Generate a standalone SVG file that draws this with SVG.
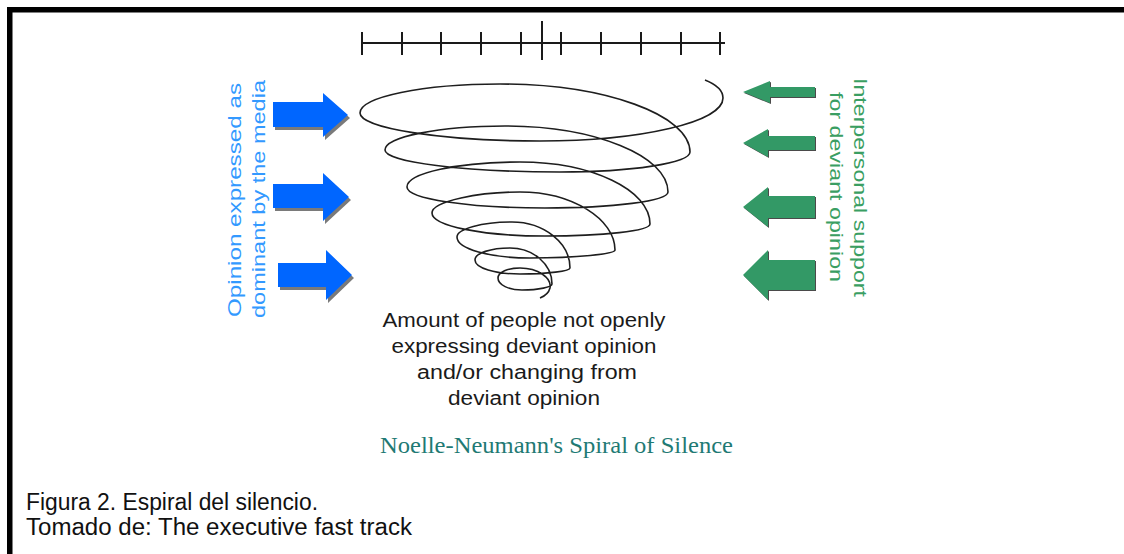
<svg xmlns="http://www.w3.org/2000/svg" width="1124" height="554" viewBox="0 0 1124 554">
<style>
.tick{stroke:#1a1a1a;stroke-width:2;fill:none}
.spiral{stroke:#1e1e1e;stroke-width:1.6;fill:none;stroke-linejoin:round}
.blue{fill:#0066ff}
.bshadow{fill:#7a7a7a}
.green{fill:#339966}
.gshadow{fill:#4a4a4a}
.sans{font-family:"Liberation Sans",Arial,sans-serif}
.btxt{fill:#3399ff;font-size:18px}
.gtxt{fill:#3a9e62;font-size:18px}
.mid{fill:#1a1a1a;font-size:20px}
.title{font-family:"Liberation Serif","Times New Roman",serif;fill:#1f7a74;font-size:23px}
.cap{fill:#111;font-size:23px}
</style>
<rect width="1124" height="554" fill="#fff"/>
<path d="M9.75,554 V9.75 H1124" fill="none" stroke="#000" stroke-width="5.5"/>

<g id="scale">
<path class="tick" d="M362,43 H725 M362,32 V55 M402,32 V55 M441,32 V55 M481,32 V55 M521,32 V55 M561,32 V55 M601,32 V55 M641,32 V55 M681,32 V55 M720,32 V55 M542,21 V60"/>
</g>

<g id="spiral">
<path class="spiral" d="M705,80 C715,84 723,90 723,98
C723,122 641,141 540,141 C441,141 360,128 360,113
C360,97 423,84 500,84 C605,84 690,115 690,152
C690,163 632,172 560,172 C464,172 385,162 385,150
C385,137 439,126 505,126 C595,126 668,156 668,192
C668,201 613,208 545,208 C469,208 407,199 407,187
C407,173 458,162 520,162 C592,162 650,190 650,224
C650,231 603,236 545,236 C483,236 432,226 432,213
C432,201 480,192 520,192 C572,192 615,219 615,250
C615,254 577,258 530,258 C490,258 457,249 457,237
C457,229 482,222 512,222 C544,222 570,243 570,268
C570,271 548,274 520,274 C495,274 475,268 475,260
C475,253 491,248 510,248 C533,248 552,264 552,284
C552,287 539,290 522,290 C509,290 498,285 498,278
C498,272 508,268 520,268 C538,268 552,278 550,288
C549,292 545,296 540,298"/>
</g>

<g id="media-arrows">
<polygon class="bshadow" transform="translate(2,3)" points="273,102 323,102 323,93 348,115 323,137 323,127 273,127"/>
<polygon class="blue" points="273,102 323,102 323,93 348,115 323,137 323,127 273,127"/>
<polygon class="bshadow" transform="translate(2,3)" points="273,184 323,184 323,173 349,197 323,221 323,208 273,208"/>
<polygon class="blue" points="273,184 323,184 323,173 349,197 323,221 323,208 273,208"/>
<polygon class="bshadow" transform="translate(2,3)" points="278,263 326,263 326,250 352,275 326,300 326,287 278,287"/>
<polygon class="blue" points="278,263 326,263 326,250 352,275 326,300 326,287 278,287"/>
</g>

<g id="media-label">
<text class="sans btxt" transform="translate(241,200) rotate(-90)" text-anchor="middle" textLength="234" lengthAdjust="spacingAndGlyphs">Opinion expressed as</text>
<text class="sans btxt" transform="translate(265,199) rotate(-90)" text-anchor="middle" textLength="238" lengthAdjust="spacingAndGlyphs">dominant by the media</text>
</g>

<g id="support-arrows">
<polygon class="gshadow" transform="translate(1,1)" points="743,92 770,81 770,87 815,87 815,97 770,97 770,103"/>
<polygon class="green" points="743,92 770,81 770,87 815,87 815,97 770,97 770,103"/>
<polygon class="gshadow" transform="translate(1,1)" points="743,143 768,129 768,136 815,136 815,150 768,150 768,157"/>
<polygon class="green" points="743,143 768,129 768,136 815,136 815,150 768,150 768,157"/>
<polygon class="gshadow" transform="translate(1,1)" points="743,207 768,187 768,196 815,196 815,218 768,218 768,227"/>
<polygon class="green" points="743,207 768,187 768,196 815,196 815,218 768,218 768,227"/>
<polygon class="gshadow" transform="translate(1,1)" points="743,275 768,250 768,260 815,260 815,290 768,290 768,300"/>
<polygon class="green" points="743,275 768,250 768,260 815,260 815,290 768,290 768,300"/>
</g>

<g id="support-label">
<text class="sans gtxt" transform="translate(854,187.5) rotate(90)" text-anchor="middle" textLength="219" lengthAdjust="spacingAndGlyphs">Interpersonal support</text>
<text class="sans gtxt" transform="translate(830,187) rotate(90)" text-anchor="middle" textLength="190" lengthAdjust="spacingAndGlyphs">for deviant opinion</text>
</g>

<g id="spiral-label" class="sans mid" text-anchor="middle">
<text x="524" y="327" textLength="283" lengthAdjust="spacingAndGlyphs">Amount of people not openly</text>
<text x="524" y="353" textLength="265" lengthAdjust="spacingAndGlyphs">expressing deviant opinion</text>
<text x="527" y="379" textLength="220" lengthAdjust="spacingAndGlyphs">and/or changing from</text>
<text x="524" y="405" textLength="152" lengthAdjust="spacingAndGlyphs">deviant opinion</text>
</g>

<g id="title">
<text class="title" x="380" y="453" textLength="353" lengthAdjust="spacingAndGlyphs">Noelle-Neumann's Spiral of Silence</text>
</g>

<g id="caption" class="sans cap">
<text x="26" y="510" textLength="292" lengthAdjust="spacingAndGlyphs">Figura 2. Espiral del silencio.</text>
<text x="26" y="535" textLength="386" lengthAdjust="spacingAndGlyphs">Tomado de: The executive fast track</text>
</g>
</svg>
